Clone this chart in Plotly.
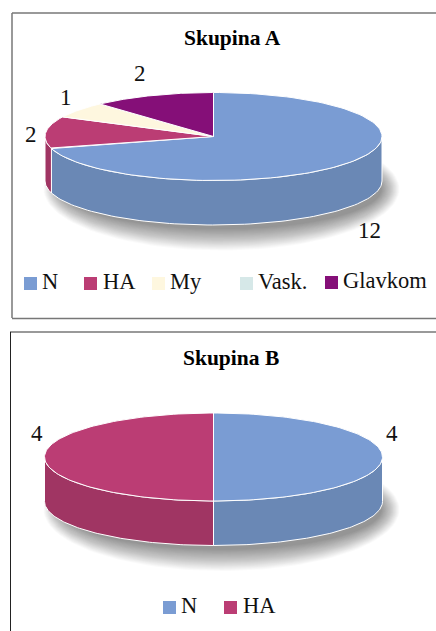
import numpy as np
import plotly.graph_objects as go

# ---- data ----
categories_a = ["N", "HA", "My", "Vask.", "Glavkom"]
values_a = [12, 2, 1, 0, 2]
categories_b = ["N", "HA"]
values_b = [4, 4]
title_a = "Skupina A"
title_b = "Skupina B"

TOP = {"N": "#7a9cd3", "HA": "#bb3d74", "My": "#fef7df", "Vask.": "#d6e8e8", "Glavkom": "#850f78"}
SIDE = {"N": "#6a88b5", "HA": "#a03563", "My": "#d8d2be", "Vask.": "#b6c5c5", "Glavkom": "#720d67"}
SERIF = "Liberation Serif"
W, H = 436, 631

fig = go.Figure()


def ell(cx, cy, rx, ry, deg):
    t = np.radians(deg)
    return cx + rx * np.sin(t), cy - ry * np.cos(t)


def poly(x, y, color, line=None):
    fig.add_trace(go.Scatter(
        x=list(x), y=list(y), mode="lines", fill="toself", fillcolor=color,
        line=dict(color=line if line else "rgba(0,0,0,0)", width=1 if line else 0),
        hoverinfo="skip", showlegend=False))


def pie3d(cats, vals, cx, cy, rx, ry, depth):
    # soft shadow, stacked translucent ellipses
    n = 24
    for i in range(n):
        f = i / (n - 1)
        srx = 178 - 18 * f
        sry = 61.5 - 21.5 * f
        x, y = ell(cx + 8, cy + depth + 8, srx, sry, np.linspace(0, 360, 121))
        poly(x, y, "rgba(0,0,0,0.02)")
    total = sum(vals)
    edges = np.concatenate([[0], np.cumsum(vals)]) / total * 360
    # side walls (front half only)
    for c, v, a0, a1 in zip(cats, vals, edges[:-1], edges[1:]):
        s0, s1 = max(a0, 90), min(a1, 270)
        if v == 0 or s1 <= s0:
            continue
        ang = np.linspace(s0, s1, 90)
        xt, yt = ell(cx, cy, rx, ry, ang)
        xb, yb = ell(cx, cy + depth, rx, ry, ang[::-1])
        poly(np.r_[xt, xb, xt[0]], np.r_[yt, yb, yt[0]], SIDE[c], "white")
    # top faces
    for c, v, a0, a1 in zip(cats, vals, edges[:-1], edges[1:]):
        if v == 0:
            continue
        ang = np.linspace(a0, a1, 120)
        x, y = ell(cx, cy, rx, ry, ang)
        poly(np.r_[cx, x, cx], np.r_[cy, y, cy], TOP[c], "white")


pie3d(categories_a, values_a, 213.5, 136.5, 168.5, 44, 44.5)
pie3d(categories_b, values_b, 213.5, 457, 169, 44, 44.5)


def text(x, y, s, size=22, bold=False, anchor="center", color="#111111"):
    fig.add_annotation(x=x, y=y, text=f"<b>{s}</b>" if bold else s, showarrow=False,
                       xref="x", yref="y", xanchor=anchor, yanchor="middle",
                       font=dict(family=SERIF, size=size, color=color))


text(232, 38, title_a, size=21.5, bold=True, color="black")
text(231, 358, title_b, size=21.5, bold=True, color="black")

# data labels, in slice order
for (x, y), v in zip([(369, 230), (31, 134), (66, 97), (140, 73)], [values_a[0], values_a[1], values_a[2], values_a[4]]):
    text(x, y, str(v), size=23)
for (x, y), v in zip([(392, 433), (37, 433)], values_b):
    text(x, y, str(v), size=23)

# legends
for c, (sx, sy, tx) in zip(categories_a, [(30.5, 283.5, 40), (90.5, 283.5, 101), (158.5, 283.5, 168),
                                          (246.5, 283.5, 256), (331.5, 282.5, 341)]):
    fig.add_trace(go.Scatter(x=[sx], y=[sy], mode="markers", hoverinfo="skip", showlegend=False,
                             marker=dict(symbol="square", size=13, color=TOP[c])))
    text(tx, sy - 2, c, size=22.5, anchor="left")
for c, (sx, sy, tx) in zip(categories_b, [(169.5, 607.5, 179), (230.5, 607.5, 241)]):
    fig.add_trace(go.Scatter(x=[sx], y=[sy], mode="markers", hoverinfo="skip", showlegend=False,
                             marker=dict(symbol="square", size=13, color=TOP[c])))
    text(tx, sy - 2, c, size=22.5, anchor="left")

# panel frames
frame = [("#777777", 12, 13, 437, 13), ("#777777", 12, 13, 12, 318), ("#777777", 12, 318.5, 437, 318.5),
         ("#777777", 10, 332, 437, 332), ("#222222", 10.5, 332, 10.5, 632)]
for col, x0, y0, x1, y1 in frame:
    fig.add_shape(type="line", x0=x0, y0=y0, x1=x1, y1=y1, xref="x", yref="y",
                  line=dict(color=col, width=1.5 if col == "#777777" else 1))

fig.update_xaxes(visible=False, range=[0, W], fixedrange=True)
fig.update_yaxes(visible=False, range=[H, 0], fixedrange=True)
fig.update_layout(width=W, height=H, margin=dict(l=0, r=0, t=0, b=0),
                  paper_bgcolor="white", plot_bgcolor="white", showlegend=False)
fig.write_html("out.html", config={"displayModeBar": False},
               post_script="document.body.style.margin='0';document.body.style.overflow='hidden';")
